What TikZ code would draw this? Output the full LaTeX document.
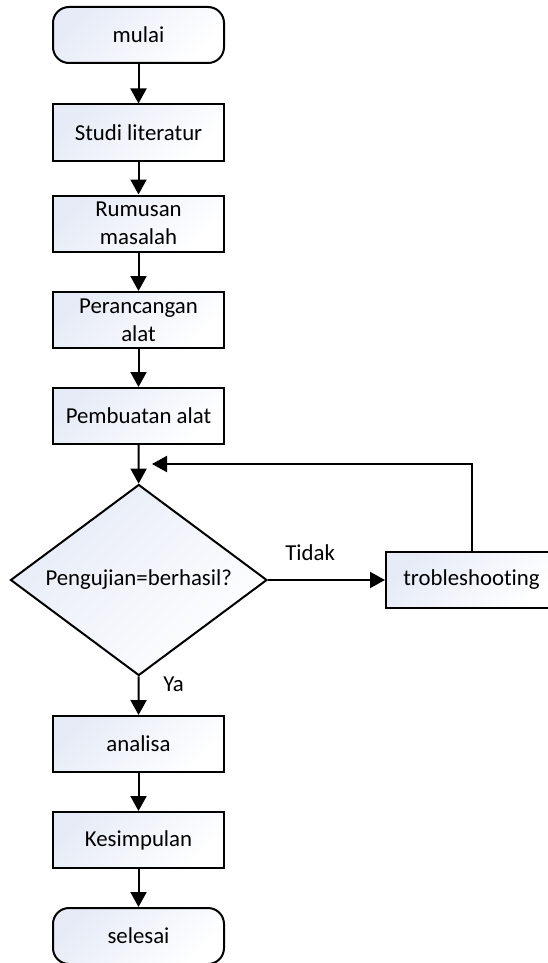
\documentclass[tikz,border=0pt]{standalone}
\usepackage{fontspec}
\setmainfont[Ligatures=NoCommon]{Carlito}
\usetikzlibrary{shapes,arrows.meta}
\definecolor{boxblue}{RGB}{230,235,247}
\tikzset{
    box/.style={draw, line width=1pt, top color=boxblue, bottom color=white, shading angle=45,
        minimum width=85.5pt, minimum height=28pt, inner sep=0pt, align=center,
        font=\fontsize{11.4}{14}\selectfont},
    term/.style={box, rounded corners=8pt},
    decide/.style={box, diamond, shape aspect=1.34, minimum width=128.25pt, minimum height=95.5pt},
    flow/.style={->, line width=1pt},
    lbl/.style={font=\fontsize{11.4}{14}\selectfont}
}

\begin{document}
\begin{tikzpicture}[x=0.5pt, y=-0.5pt, >={Triangle[width=8pt,length=7.5pt]}]

    \useasboundingbox (0,0) rectangle (547,963);

    \draw(138.5,35) node[term] (mulai) {mulai};
    \draw(138.5,132.5) node[box] (studi) {Studi literatur};
    \draw(138.5,223.5) node[box] (rumusan) {Rumusan\\masalah};
    \draw(138.5,320) node[box] (rancang) {Perancangan\\alat};
    \draw(138.5,416) node[box] (buat) {Pembuatan alat};
    \draw(138.75,580) node[decide] (uji) {Pengujian=berhasil?};
    \draw(471.5,580) node[box] (trouble) {trobleshooting};
    \draw(138.5,744) node[box] (analisa) {analisa};
    \draw(138.5,840) node[box] (simpul) {Kesimpulan};
    \draw(138.5,936) node[term] (selesai) {selesai};
    \coordinate (balik) at (152,464);

    \draw[flow] (mulai) -- (studi);
    \draw[flow] (studi) -- (rumusan);
    \draw[flow] (rumusan) -- (rancang);
    \draw[flow] (rancang) -- (buat);
    \draw[flow] (buat) -- (uji);
    \draw[flow] (uji) -- (trouble) node[pos=0.36, above=6pt, lbl] {Tidak};
    \draw[flow] (trouble.north) |- (balik);
    \draw[flow] (uji) -- (analisa) node[pos=0.2, right=8.5pt, lbl] {Ya};
    \draw[flow] (analisa) -- (simpul);
    \draw[flow] (simpul) -- (selesai);

\end{tikzpicture}
\end{document}
